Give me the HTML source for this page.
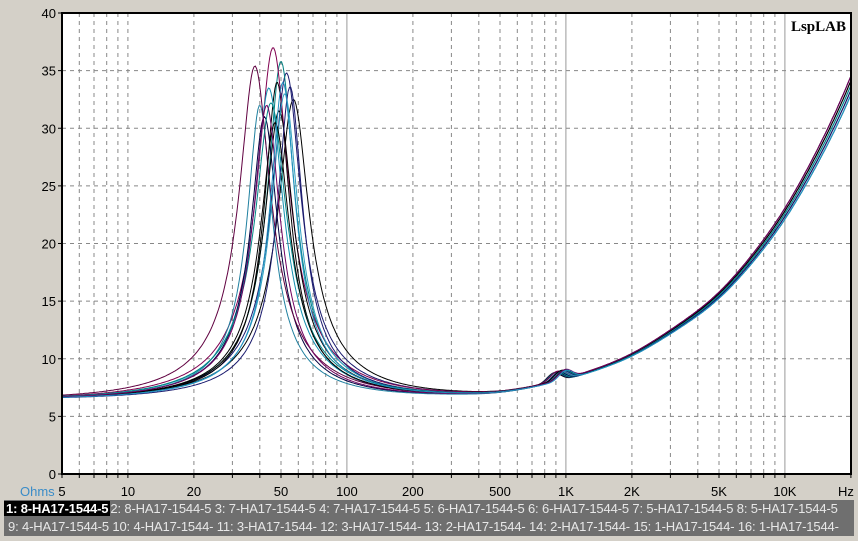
<!DOCTYPE html><html><head><style>
body{margin:0;width:858px;height:541px;background:#d4d0c8;font-family:"Liberation Sans",sans-serif;overflow:hidden;position:relative}
.lg{position:absolute;left:4px;width:850px;height:18px;background:#6f6f6f;color:#e8e8e8;font-size:13px;line-height:18px;white-space:nowrap;overflow:hidden;letter-spacing:-0.15px}
.lg span{padding:0 2px}
</style></head><body>
<svg id="s" width="858" height="541" style="position:absolute;left:0;top:0" font-family="Liberation Sans, sans-serif" font-size="13"></svg>
<div class="lg" style="top:500px"><span style="background:#000;color:#fff;font-weight:bold">1: 8-HA17-1544-5</span>2: 8-HA17-1544-5 3: 7-HA17-1544-5 4: 7-HA17-1544-5 5: 6-HA17-1544-5 6: 6-HA17-1544-5 7: 5-HA17-1544-5 8: 5-HA17-1544-5</div>
<div class="lg" style="top:518px"><span></span>9: 4-HA17-1544-5 10: 4-HA17-1544- 11: 3-HA17-1544- 12: 3-HA17-1544- 13: 2-HA17-1544- 14: 2-HA17-1544- 15: 1-HA17-1544- 16: 1-HA17-1544-</div>
<script>
const L=62,R=851,T=13,B=474;
const X=f=>L+(Math.log10(f)-Math.log10(5))*219;
const Y=v=>B-v*(B-T)/40;
let h='<rect x="'+L+'" y="'+T+'" width="'+(R-L)+'" height="'+(B-T)+'" fill="#fff"/>';
const ticks=[];for(let d=1;d<=10000;d*=10)for(let m=1;m<10;m++){const f=d*m;if(f>=5&&f<=20000)ticks.push(f);}
for(const f of ticks){const x=X(f).toFixed(1);const dec=[100,1000,10000].includes(f);
h+=`<line x1="${x}" y1="${T}" x2="${x}" y2="${B}" stroke="${dec?'#999':'#888'}" ${dec?'':'stroke-dasharray="4,4"'}/>`;
h+=`<line x1="${x}" y1="${B}" x2="${x}" y2="${B+4}" stroke="#000"/>`;}
for(let v=5;v<40;v+=5){const y=Y(v);h+=`<line x1="${L}" y1="${y}" x2="${R}" y2="${y}" stroke="#888" stroke-dasharray="4,4"/>`;}
for(let v=0;v<=40;v+=5){const y=Y(v);h+=`<text x="56" y="${y+5}" text-anchor="end" fill="#000">${v}</text><line x1="${L-4}" y1="${y}" x2="${L}" y2="${y}" stroke="#000"/>`;}
const lab={5:'5',10:'10',20:'20',50:'50',100:'100',200:'200',500:'500',1000:'1K',2000:'2K',5000:'5K',10000:'10K'};
for(const f in lab)h+=`<text x="${X(+f)}" y="496" text-anchor="middle">${lab[f]}</text>`;
h+=`<text x="838" y="496">Hz</text><text x="20" y="496" fill="#3a8cc8">Ohms</text>`;
h+=`<text x="846" y="31" text-anchor="end" font-family="Liberation Serif,serif" font-weight="bold" font-size="15">LspLAB</text>`;
const rp=[[100,0],[200,0.1],[500,0.35],[1000,1.6],[2000,3.6],[5000,8.6],[10000,15.6],[20000,26.5],[40000,43]];
function rise0(f){if(f<=100)return 0;for(let j=1;j<rp.length;j++){if(f<=rp[j][0]){const a=rp[j-1],b=rp[j];const t=(Math.log(f)-Math.log(a[0]))/(Math.log(b[0])-Math.log(a[0]));return a[1]+(b[1]-a[1])*t;}}return 43;}
function rise(f){let s=0,w=0;for(let k=-10;k<=10;k++){const g=Math.exp(-k*k/30);s+=g*rise0(f*Math.pow(10,k*0.025));w+=g;}return s/w;}
const cols=['#000','#1a1a6e','#008080','#000','#800050','#1090b0','#000040','#2080a0','#600040','#000','#30a0c0','#1a1a6e','#008888','#000','#700060','#2090c0'];
const fsA=[57,53,50,48,46,44,42,40,38,49,52,55,45,47,43,51];
const zmA=[32.5,34.8,35.8,34,37,33.5,31,32,35.4,31.5,33,33.6,32.2,30.5,32,34];
for(let i=0;i<16;i++){const fs=fsA[i],zm=zmA[i],Re=6.5,Q=2.9+(i%4)*0.25;let p='';
for(let k=0;k<=600;k++){const f=5*Math.pow(4000,k/600);const u=f/fs-fs/f;
let z=Re+(zm-Re)/Math.pow(1+Q*Q*u*u,0.72)+rise(f)*(1+((i%5)-2)*0.015);
const b=f/(880+i*8);z+=0.8*Math.exp(-Math.pow(Math.log(b)*10,2));
p+=(k?'L':'M')+X(f).toFixed(1)+','+Y(Math.min(z,40)).toFixed(1);}
h+=`<path d="${p}" fill="none" stroke="${cols[i]}" stroke-width="1"/>`;}
h+=`<path d="M${L},${T}H${R}V${B}H${L}Z" fill="none" stroke="#000" stroke-width="2"/>`;
document.getElementById('s').innerHTML=h;
</script></body></html>
